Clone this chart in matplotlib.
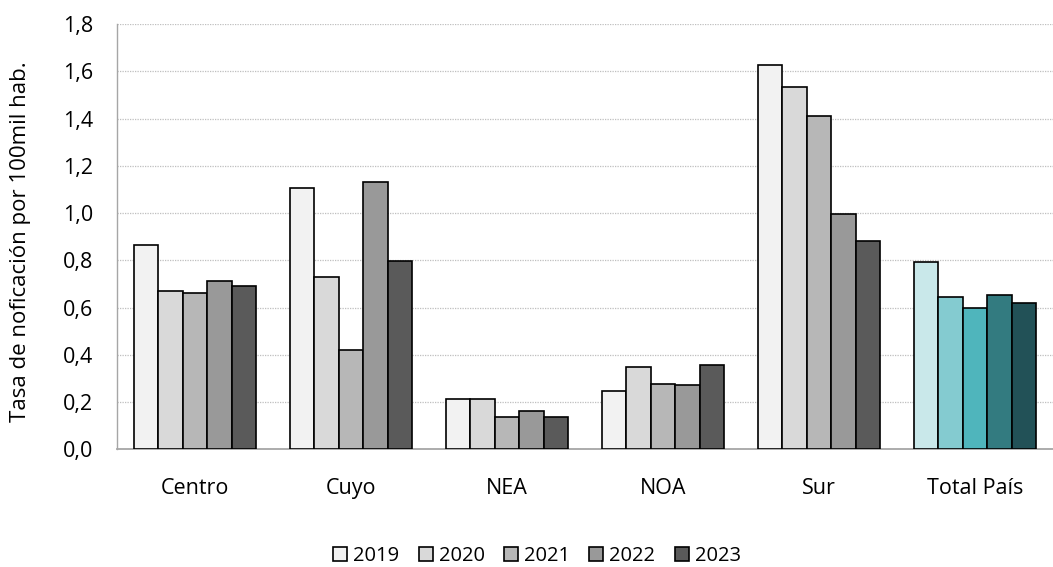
import matplotlib
matplotlib.use("Agg")
import matplotlib.pyplot as plt
import numpy as np
from matplotlib.patches import Patch

categories = ["Centro", "Cuyo", "NEA", "NOA", "Sur", "Total País"]
years = ["2019", "2020", "2021", "2022", "2023"]
values = {
    "2019": [0.866, 1.107, 0.215, 0.248, 1.626, 0.794],
    "2020": [0.670, 0.728, 0.212, 0.349, 1.533, 0.646],
    "2021": [0.663, 0.420, 0.138, 0.277, 1.410, 0.598],
    "2022": [0.712, 1.132, 0.163, 0.273, 0.994, 0.653],
    "2023": [0.693, 0.796, 0.136, 0.356, 0.880, 0.618],
}
gray_colors = ["#f2f2f2", "#d9d9d9", "#b7b7b7", "#999999", "#5a5a5a"]
teal_colors = ["#c9e8ea", "#84cbd0", "#4fb5bc", "#337b80", "#225157"]
yticks = [0.0, 0.2, 0.4, 0.6, 0.8, 1.0, 1.2, 1.4, 1.6, 1.8]

plt.rcParams['font.family'] = ['Open Sans', 'DejaVu Sans']

fig = plt.figure(figsize=(10.53, 5.67), dpi=100)
ax = fig.add_axes([117/1053, 1-449.3/567, 936/1053, (449.3-24)/567])

x = np.arange(len(categories))
bw = 0.156
for i, y in enumerate(years):
    cols = [gray_colors[i]] * (len(categories) - 1) + [teal_colors[i]]
    ax.bar(x + (i - 2) * bw, values[y], width=bw, color=cols,
           edgecolor="black", linewidth=1.2, zorder=3)

ax.set_xlim(-0.5, len(categories) - 0.5)
ax.set_ylim(0, 1.8)
ax.set_yticks(yticks)
ax.set_yticklabels([f"{t:.1f}".replace(".", ",") for t in yticks], fontsize=15.5)
ax.set_xticks(x)
ax.set_xticklabels(categories, fontsize=15.5)
ax.tick_params(axis="both", length=0)
ax.tick_params(axis="y", pad=17)
ax.tick_params(axis="x", pad=21)
ax.yaxis.grid(True, linestyle=(0, (1, 1)), color="#bfbfbf", linewidth=0.9, zorder=0)
ax.set_axisbelow(True)
for s in ["top", "right"]:
    ax.spines[s].set_visible(False)
ax.spines["left"].set_color("#a6a6a6")
ax.spines["bottom"].set_color("#a6a6a6")
ax.spines["left"].set_linewidth(1.0)
ax.spines["bottom"].set_linewidth(1.3)

fig.text(21/1053, 1-242/567, "Tasa de noficación por 100mil hab.", rotation=90,
         ha="center", va="center", fontsize=16)

handles = [Patch(facecolor=c, edgecolor="black", linewidth=1.2) for c in gray_colors]
fig.legend(handles, years, loc="center", bbox_to_anchor=(537/1053, 1-556/567),
           ncol=5, frameon=False, fontsize=14.5, handlelength=0.7, handleheight=0.7,
           handletextpad=0.3, columnspacing=0.95)

fig.savefig("out.png", dpi=100)
